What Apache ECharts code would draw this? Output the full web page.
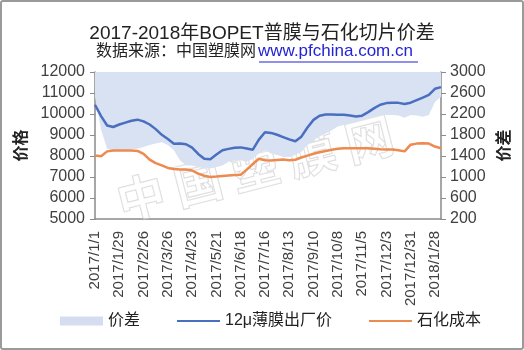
<!DOCTYPE html>
<html><head><meta charset="utf-8">
<script src="https://cdn.jsdelivr.net/npm/echarts@6/dist/echarts.min.js"></script>
<style>
html,body{margin:0;padding:0;background:#fff;}
#wrap{width:524px;height:350px;box-sizing:border-box;border:2px solid #9a9a9a;border-radius:3px;position:relative;overflow:hidden;}
#c{position:absolute;left:-2px;top:-2px;width:524px;height:350px;}
</style></head>
<body><div id="wrap"><div id="c"></div></div>
<script>
var categories = ["2017/1/1","2017/1/8","2017/1/15","2017/1/22","2017/1/29","2017/2/5","2017/2/12","2017/2/19","2017/2/26","2017/3/5","2017/3/12","2017/3/19","2017/3/26","2017/4/2","2017/4/9","2017/4/16","2017/4/23","2017/4/30","2017/5/7","2017/5/14","2017/5/21","2017/5/28","2017/6/4","2017/6/11","2017/6/18","2017/6/25","2017/7/2","2017/7/9","2017/7/16","2017/7/23","2017/7/30","2017/8/6","2017/8/13","2017/8/20","2017/8/27","2017/9/3","2017/9/10","2017/9/17","2017/9/24","2017/10/1","2017/10/8","2017/10/15","2017/10/22","2017/10/29","2017/11/5","2017/11/12","2017/11/19","2017/11/26","2017/12/3","2017/12/10","2017/12/17","2017/12/24","2017/12/31","2018/1/7","2018/1/14","2018/1/21","2018/1/28","2018/2/4"];
var filmPrice = [10440,9900,9450,9380,9500,9590,9680,9730,9650,9500,9280,9010,8810,8580,8600,8560,8400,8100,7870,7850,8070,8270,8340,8390,8410,8360,8300,8780,9130,9100,9010,8900,8790,8700,8920,9360,9720,9920,9980,9980,9960,9960,9930,9880,9920,10090,10280,10440,10520,10540,10530,10480,10540,10660,10780,10910,11200,11280];
var chipCost = [8020,7990,8220,8260,8260,8260,8260,8240,8100,7830,7660,7550,7430,7380,7360,7360,7310,7160,7060,7000,7020,7050,7070,7090,7110,7350,7620,7870,7800,7790,7810,7830,7800,7820,7930,8020,8110,8180,8240,8300,8340,8370,8370,8370,8370,8370,8350,8320,8310,8310,8270,8220,8540,8590,8610,8590,8450,8370];
var spread = [2530,1900,1540,1510,1510,1510,1530,1540,1570,1610,1640,1660,1610,1510,1320,1220,1220,1190,1160,1160,1190,1220,1290,1320,1320,1290,1350,1450,1510,1450,1420,1380,1380,1420,1480,1610,1700,1770,1830,1890,1960,1990,2020,2050,2080,2120,2150,2180,2180,2180,2170,2130,2180,2170,2150,2180,2430,2530];
var seriesNames = ["价差","12μ薄膜出厂价","石化成本"];
var titleText = "2017-2018年BOPET普膜与石化切片价差";
var sourceLabel = "数据来源：中国塑膜网";
var sourceUrl = "www.pfchina.com.cn";
var leftAxisName = "价格";
var rightAxisName = "价差";
var watermark = "中 国 塑 膜 网";

var FONT = '"Liberation Sans","Noto Sans CJK SC",sans-serif';
var chart = echarts.init(document.getElementById('c'), null, {renderer:'canvas'});
var axisColor = '#8a8a8a';
var labelColor = '#404040';
function plain(v){ return String(v); }
chart.setOption({
  backgroundColor: 'transparent',
  animation: false,
  title: {
    text: titleText, left: 'center', top: 19,
    textStyle: {fontFamily: FONT, fontSize: 19, fontWeight: 'normal', color: '#222'}
  },
  graphic: [
    {type:'text', left: 96, top: 44, z: 10, style: {
      text: sourceLabel, fill: '#222', font: '16px "Liberation Sans","Noto Sans CJK SC",sans-serif'
    }},
    {type:'text', left: 258, top: 43, z: 10, style: {
      text: sourceUrl, fill: '#2323d6', font: '17px "Liberation Sans",sans-serif'
    }},
    {type:'line', z: 10, shape: {x1: 259, y1: 62, x2: 418, y2: 62}, style: {stroke: '#2323d6', lineWidth: 1}},
    {type:'text', x: 255, y: 168, rotation: 0.25, z: 1, silent: true, style: {
      text: watermark, align: 'center', verticalAlign: 'middle',
      font: 'bold 48px "Noto Sans CJK SC", sans-serif',
      fill: 'rgba(255,255,255,0.35)', stroke: 'rgba(170,170,170,0.45)', lineWidth: 1.2
    }}
  ],
  grid: {left: 95, right: 83, top: 72, bottom: 131, containLabel: false},
  legend: {
    left: 55, top: 308, itemGap: 36, itemWidth: 43, itemHeight: 9,
    textStyle: {fontFamily: FONT, fontSize: 16, color: '#222'},
    data: [
      {name: seriesNames[0], icon: 'rect'},
      {name: seriesNames[1], itemStyle: {opacity: 0}},
      {name: seriesNames[2], itemStyle: {opacity: 0}}
    ]
  },
  xAxis: {
    type: 'category', data: categories, boundaryGap: false,
    axisLine: {lineStyle: {color: axisColor, width: 1.5}},
    axisTick: {show: false},
    axisLabel: {interval: 3, rotate: 90, margin: 12, fontFamily: FONT, fontSize: 15, color: labelColor}
  },
  yAxis: [
    {type: 'value', min: 5000, max: 12000, interval: 1000, position: 'left',
     name: leftAxisName, nameLocation: 'middle', nameGap: 56,
     nameTextStyle: {fontFamily: FONT, fontSize: 16, fontWeight: 'bold', color: '#222'},
     axisLine: {show: true, lineStyle: {color: axisColor, width: 1.5}},
     axisTick: {show: true, length: 5, lineStyle: {color: axisColor}},
     splitLine: {show: false},
     axisLabel: {margin: 10, formatter: plain, fontFamily: FONT, fontSize: 16, color: labelColor}},
    {type: 'value', min: 200, max: 3000, interval: 400, position: 'right',
     name: rightAxisName, nameLocation: 'middle', nameGap: 45,
     nameTextStyle: {fontFamily: FONT, fontSize: 16, fontWeight: 'bold', color: '#222'},
     axisLine: {show: true, lineStyle: {color: axisColor, width: 1.5}},
     axisTick: {show: true, length: 5, lineStyle: {color: axisColor}},
     splitLine: {show: false},
     axisLabel: {margin: 9, formatter: plain, fontFamily: FONT, fontSize: 16, color: labelColor}}
  ],
  series: [
    {name: seriesNames[0], type: 'line', yAxisIndex: 1, data: spread, symbol: 'none',
     lineStyle: {width: 0, color: '#d5def0'}, itemStyle: {color: '#d5def0'},
     areaStyle: {origin: 'end', color: '#d9e2f2', opacity: 1}, z: 1},
    {name: seriesNames[1], type: 'line', yAxisIndex: 0, data: filmPrice, symbol: 'none',
     lineStyle: {width: 2.5, color: '#4a6fc0'}, itemStyle: {color: '#4a6fc0'}, z: 3},
    {name: seriesNames[2], type: 'line', yAxisIndex: 0, data: chipCost, symbol: 'none',
     lineStyle: {width: 2.5, color: '#ec8a4f'}, itemStyle: {color: '#ec8a4f'}, z: 3}
  ]
});
</script></body></html>
